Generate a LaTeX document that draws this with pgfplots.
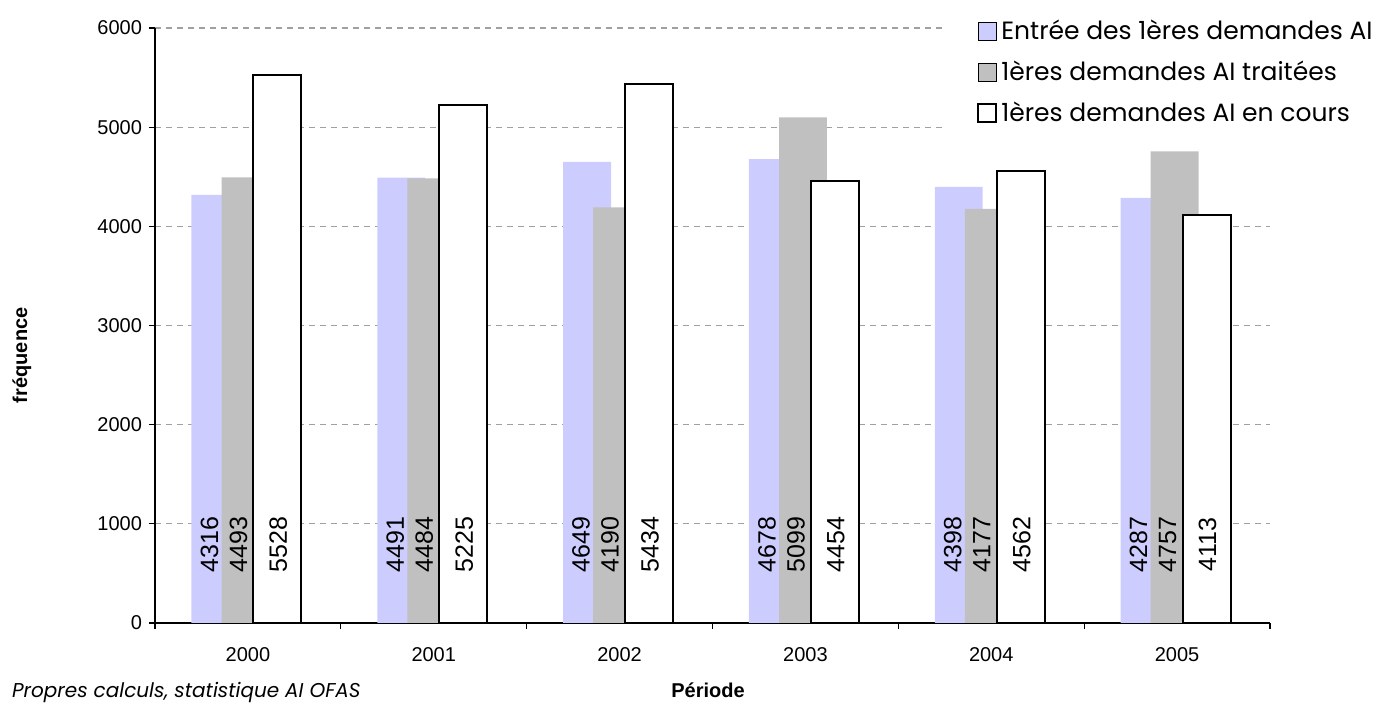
\documentclass[border=0pt]{standalone}
\usepackage{fontspec}
\setmainfont{Liberation Sans}
\newfontfamily\legfont{Poppins}
\usepackage{pgfplots}
\pgfplotsset{compat=1.18}
\usepackage{pgfplotstable}

\definecolor{lav}{HTML}{CCCCFF}
\definecolor{grisbar}{HTML}{C0C0C0}
\definecolor{grille}{HTML}{A0A0A0}

% annee, entrees, traitees, en cours
\pgfplotstableread{
x a b c
0 4316 4493 5528
1 4491 4484 5225
2 4649 4190 5434
3 4678 5099 4454
4 4398 4177 4562
5 4287 4757 4113
}\demandes

\pgfplotsset{
    sq/.style={legend image code/.code={\draw[##1] (0pt,-4.5pt) rectangle (9pt,4.5pt);}},
    etiq/.style={forget plot, draw=none, mark=none, nodes near coords,
        point meta=explicit symbolic,
        every node near coord/.append style={rotate=90, anchor=center, inner sep=0pt,
            font=\fontsize{12.5}{15}\selectfont, text=black}},
}

\begin{document}
\begin{tikzpicture}
\begin{axis}[
    scale only axis,
    width=557.5pt, height=297.5pt,
    xmin=-0.5, xmax=5.5, ymin=0, ymax=6000,
    axis lines*=left,
    axis line style={black, line width=0.7pt},
    tick align=outside,
    major tick length=3pt,
    tick style={black, line width=0.6pt},
    xtick={-0.5,0.5,...,5.5},
    xticklabels={,,,,,,,},
    extra x ticks={0,1,2,3,4,5},
    extra x tick labels={2000,2001,2002,2003,2004,2005},
    extra x tick style={major tick length=0pt, xmajorgrids=false,
        tick label style={yshift=-8.5pt}},
    ytick={0,1000,...,6000},
    ymajorgrids,
    grid style={grille, dash pattern=on 3pt off 2.5pt, line width=0.6pt},
    tick label style={font=\fontsize{10}{12}\selectfont},
    /pgf/number format/1000 sep={},
    /pgf/number format/assume math mode=true,
    xlabel={\bfseries Période},
    ylabel={\bfseries fréquence},
    label style={font=\fontsize{9.5}{11}\selectfont},
    every axis x label/.style={at={(axis description cs:0.496,-0.1126)}, anchor=center},
    every axis y label/.style={at={(axis description cs:-0.1193,0.45)}, rotate=90, anchor=center},
    legend style={at={(rel axis cs:0.7085,1.047)}, anchor=north west, draw=none, fill=white,
        font=\legfont\fontsize{12.5}{15}\selectfont, inner xsep=16pt, inner ysep=8pt,
        row sep=5pt, legend cell align=left},
]
\addplot[ybar, bar width=0.258, bar shift=-0.175, fill=lav, draw=none, sq]
    table[x=x, y=a] {\demandes};
\addlegendentry{Entrée des 1ères demandes AI}
\addplot[ybar, bar width=0.258, bar shift=-0.013, fill=grisbar, draw=none, sq]
    table[x=x, y=b] {\demandes};
\addlegendentry{1ères demandes AI traitées}
\addplot[ybar, bar width=0.258, bar shift=0.159, fill=white, draw=black, line width=1pt, sq]
    table[x=x, y=c] {\demandes};
\addlegendentry{1ères demandes AI en cours}

\addplot[etiq] table[x expr=\thisrow{x}-0.207, y expr=790, meta=a] {\demandes};
\addplot[etiq] table[x expr=\thisrow{x}-0.051, y expr=790, meta=b] {\demandes};
\addplot[etiq] table[x expr=\thisrow{x}+0.164, y expr=790, meta=c] {\demandes};
\end{axis}
\node[anchor=base west, font=\legfont\itshape\fontsize{10}{12}\selectfont]
    at (-75pt,-37.5pt) {Propres calculs, statistique AI OFAS};
\pgfresetboundingbox
\path[use as bounding box] (-77.5pt,-40.5pt) rectangle (615.5pt,311.5pt);
\end{tikzpicture}
\end{document}
